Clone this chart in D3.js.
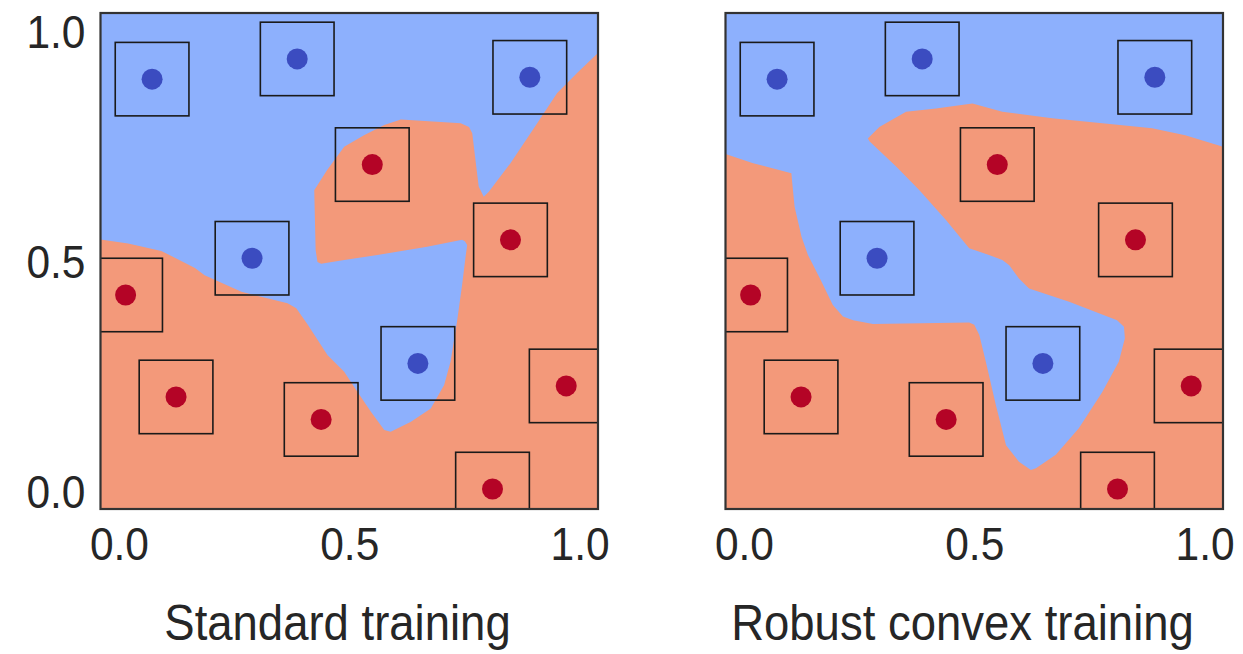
<!DOCTYPE html>
<html><head><meta charset="utf-8">
<script src="https://cdn.jsdelivr.net/npm/d3@7"></script>
<style>body{margin:0;background:#fff}</style>
</head><body><svg id="c" width="1243" height="654"></svg>
<script>
// ---- data ----
const blueX = [0.072, 0.387, 0.892, 0.289, 0.649];
const blueY = [0.896, 0.940, 0.900, 0.506, 0.277];
const redX  = [0.550, 0.850, 0.0145, 0.124, 0.439, 0.971, 0.811];
const redY  = [0.710, 0.546, 0.426, 0.204, 0.155, 0.228, 0.0035];
const epsilon = 0.08;
const tickValues = [0.0, 0.5, 1.0];
const tickLabels = ["0.0", "0.5", "1.0"];
const panelTitles = ["Standard training", "Robust convex training"];
const axisDomain = [-0.04, 1.04];

// decision region of the red class (rest of the square is blue)
const standardRedRegion = [
  [-0.04,0.547],[0.020,0.538],[0.092,0.522],[0.165,0.485],[0.186,0.469],[0.266,0.433],
  [0.366,0.408],[0.385,0.397],[0.410,0.361],[0.453,0.295],[0.489,0.259],[0.518,0.215],
  [0.547,0.172],[0.576,0.132],[0.590,0.128],[0.634,0.150],[0.677,0.179],[0.706,0.230],
  [0.720,0.281],[0.734,0.368],[0.745,0.448],[0.753,0.513],[0.756,0.535],[0.751,0.543],
  [0.745,0.546],[0.669,0.531],[0.561,0.513],[0.489,0.502],[0.439,0.494],[0.431,0.498],
  [0.427,0.524],[0.424,0.654],[0.452,0.698],[0.489,0.749],[0.532,0.774],[0.576,0.796],
  [0.612,0.808],[0.742,0.800],[0.760,0.792],[0.767,0.778],[0.774,0.720],[0.781,0.662],
  [0.792,0.640],[0.803,0.651],[0.850,0.713],[0.908,0.800],[0.951,0.865],[0.994,0.909],
  [1.04,0.953],[1.04,-0.04],[-0.04,-0.04]
];
const robustRedRegion = [
  [-0.04,0.733],[0.020,0.713],[0.103,0.691],[0.105,0.669],[0.110,0.618],[0.125,0.553],
  [0.139,0.513],[0.165,0.462],[0.193,0.404],[0.215,0.379],[0.237,0.371],[0.280,0.363],
  [0.489,0.366],[0.500,0.361],[0.511,0.339],[0.525,0.281],[0.547,0.186],[0.569,0.099],
  [0.597,0.063],[0.623,0.045],[0.634,0.049],[0.677,0.078],[0.727,0.136],[0.778,0.215],
  [0.814,0.281],[0.827,0.332],[0.825,0.357],[0.810,0.371],[0.706,0.411],[0.619,0.440],
  [0.597,0.462],[0.576,0.491],[0.561,0.502],[0.532,0.513],[0.489,0.528],[0.439,0.589],
  [0.381,0.654],[0.331,0.705],[0.273,0.760],[0.269,0.767],[0.276,0.774],[0.294,0.792],
  [0.352,0.825],[0.417,0.832],[0.496,0.843],[0.561,0.825],[0.669,0.811],[0.778,0.800],
  [0.886,0.789],[0.958,0.774],[1.04,0.749],[1.04,-0.04],[-0.04,-0.04]
];
const regions = [standardRedRegion, robustRedRegion];

// ---- style ----
const blueBg = "#8db0fd", redBg = "#f3997a";
const blueDot = "#3b4cc0", redDot = "#b40426";
const textColor = "#262626";
const vStretch = 1.1;

const svg = d3.select("#c");
const panelLeft = [100.5, 725.5];
const panelW = 497.5, plotTop = 13, panelH = 496;
const titleX = [337.5, 962.5];

panelLeft.forEach((left, pi) => {
  const x = d3.scaleLinear().domain(axisDomain).range([0, panelW]);
  const y = d3.scaleLinear().domain(axisDomain).range([panelH, 0]);
  const g = svg.append("g").attr("transform", `translate(${left},${plotTop})`);
  const clipId = "clip" + pi;
  g.append("clipPath").attr("id", clipId)
    .append("rect").attr("width", panelW).attr("height", panelH);
  const body = g.append("g").attr("clip-path", `url(#${clipId})`);

  body.append("rect").attr("width", panelW).attr("height", panelH).attr("fill", blueBg);
  body.append("path")
    .attr("d", d3.line().x(d => x(d[0])).y(d => y(d[1]))(regions[pi]) + "Z")
    .attr("fill", redBg);

  const pts = blueX.map((v, i) => ({x: v, y: blueY[i], c: blueDot}))
    .concat(redX.map((v, i) => ({x: v, y: redY[i], c: redDot})));

  body.selectAll("rect.box").data(pts).join("rect").attr("class", "box")
    .attr("x", d => x(d.x - epsilon)).attr("y", d => y(d.y + epsilon))
    .attr("width", d => x(d.x + epsilon) - x(d.x - epsilon))
    .attr("height", d => y(d.y - epsilon) - y(d.y + epsilon))
    .attr("fill", "none").attr("stroke", "#1a1a1a").attr("stroke-width", 1.6);

  body.selectAll("circle").data(pts).join("circle")
    .attr("cx", d => x(d.x)).attr("cy", d => y(d.y)).attr("r", 10.5)
    .attr("fill", d => d.c);

  g.append("rect").attr("width", panelW).attr("height", panelH)
    .attr("fill", "none").attr("stroke", "#333").attr("stroke-width", 2.2);

  // x axis
  const xa = g.append("g").attr("transform", `translate(0,${panelH})`)
    .call(d3.axisBottom(x).tickValues(tickValues).tickSize(0)
      .tickFormat((d, i) => tickLabels[i]));
  xa.select(".domain").remove();
  xa.selectAll("text").attr("dy", null).attr("y", 51 / vStretch)
    .attr("transform", `scale(1,${vStretch})`)
    .attr("font-family", "Liberation Sans, Arial, sans-serif")
    .attr("font-size", 42.5).attr("fill", textColor);

  if (pi === 0) {
    const ya = g.append("g")
      .call(d3.axisLeft(y).tickValues(tickValues).tickSize(0)
        .tickFormat((d, i) => tickLabels[i]));
    ya.select(".domain").remove();
    ya.selectAll("text").attr("dy", null).attr("x", -15)
      .attr("y", 16.5 / vStretch)
      .attr("transform", `scale(1,${vStretch})`)
      .attr("font-family", "Liberation Sans, Arial, sans-serif")
      .attr("font-size", 42.5).attr("fill", textColor);
  }

  svg.append("text")
    .attr("transform", `translate(${titleX[pi]},640) scale(1,${vStretch})`)
    .attr("text-anchor", "middle")
    .attr("font-family", "Liberation Sans, Arial, sans-serif")
    .attr("font-size", 45.5).attr("fill", textColor)
    .text(panelTitles[pi]);
});
</script></body></html>
